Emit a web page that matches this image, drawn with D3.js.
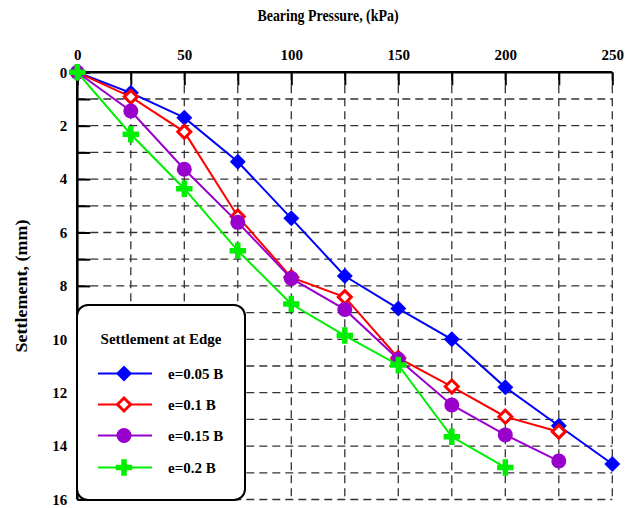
<!DOCTYPE html>
<html><head><meta charset="utf-8">
<script src="https://cdn.jsdelivr.net/npm/d3@7"></script>
<style>body{margin:0;background:#fff;}svg{display:block;font-family:"Liberation Serif","Times New Roman",serif;font-weight:bold;}</style>
</head><body>
<script>
const pressure = [0,25,50,75,100,125,150,175,200,225,250];
const s005 = [0,0.77,1.7,3.35,5.47,7.63,8.85,10.0,11.8,13.24,14.67];
const s010 = [0,0.92,2.23,5.4,7.68,8.42,10.7,11.77,12.9,13.46];
const s015 = [0,1.45,3.63,5.62,7.72,8.88,10.75,12.46,13.58,14.56];
const s020 = [0,2.32,4.36,6.68,8.68,9.86,10.96,13.65,14.8];
const seriesNames = ["e=0.05 B","e=0.1 B","e=0.15 B","e=0.2 B"];
const seriesColors = ["#0000ff","#ff0000","#9900cc","#00ee00"];
const seriesMarkers = ["diamond","hollowDiamond","circle","plus"];
const xTicks = [0,25,50,75,100,125,150,175,200,225,250];
const xLabels = [0,50,100,150,200,250];
const yTicks = d3.range(0,17,1);
const yLabels = [0,2,4,6,8,10,12,14,16];

const W=637,H=508;
const svg=d3.select("body").append("svg").attr("width",W).attr("height",H);
const x=d3.scaleLinear().domain([0,250]).range([77.3,612.3]);
const y=d3.scaleLinear().domain([0,16]).range([72.3,499.5]);

// grid
const grid=svg.append("g").attr("stroke","#333").attr("stroke-width",1.3).attr("stroke-dasharray","8,5");
grid.selectAll(".gx").data(xTicks.filter(d=>d>0)).join("line")
  .attr("x1",d=>x(d)).attr("x2",d=>x(d)).attr("y1",y(0)).attr("y2",y(16));
grid.selectAll(".gy").data(yTicks.filter(d=>d>0)).join("line")
  .attr("y1",d=>y(d)).attr("y2",d=>y(d)).attr("x1",x(0)).attr("x2",x(250));

// axes
const xAxis=d3.axisTop(x).tickValues(xTicks).tickSizeInner(-13).tickSizeOuter(0).tickPadding(12)
  .tickFormat(d=>xLabels.includes(d)?d:"");
const gx=svg.append("g").attr("transform",`translate(0,${y(0)})`).call(xAxis);
const yAxis=d3.axisLeft(y).tickValues(yTicks).tickSizeInner(-13).tickSizeOuter(0).tickPadding(10)
  .tickFormat(d=>yLabels.includes(d)?d:"");
const gy=svg.append("g").attr("transform",`translate(${x(0)},0)`).call(yAxis);
[gx,gy].forEach(g=>{
  g.select(".domain").attr("stroke","#000").attr("stroke-width",2.6);
  g.selectAll(".tick line").attr("stroke","#000").attr("stroke-width",2);
  g.selectAll(".tick text").attr("fill","#000").style("font-size","15px").style("font-family","Liberation Serif").style("font-weight","bold");
});
gy.select(".domain").attr("d",`M0,${y(0)-1.3}V${y(16)}`);
gx.select(".domain").attr("d",`M${x(0)},0H${x(250)}`);

// titles
svg.append("text").attr("x",328).attr("y",21).attr("text-anchor","middle").style("font-size","16.5px")
  .attr("textLength",141).attr("lengthAdjust","spacingAndGlyphs").text("Bearing Pressure, (kPa)");
svg.append("text").attr("transform","translate(27,286) rotate(-90)").attr("text-anchor","middle").style("font-size","16.5px")
  .attr("textLength",133).attr("lengthAdjust","spacingAndGlyphs").text("Settlement, (mm)");

// markers
function drawMarker(g,type,color){
  if(type==="diamond"){
    g.append("path").attr("d","M0,-8L8,0L0,8L-8,0Z").attr("fill",color);
  } else if(type==="hollowDiamond"){
    g.append("path").attr("d","M0,-6.5L6.5,0L0,6.5L-6.5,0Z").attr("fill","#fff").attr("stroke",color).attr("stroke-width",3);
  } else if(type==="circle"){
    g.append("circle").attr("r",7.5).attr("fill",color);
  } else {
    g.append("path").attr("d",d3.symbol(d3.symbolCross,150)()).attr("fill",color);
  }
}

const allSeries=[s005,s010,s015,s020];
const line=d3.line().x(d=>x(d[0])).y(d=>y(d[1]));
allSeries.forEach((vals,i)=>{
  const pts=vals.map((v,j)=>[pressure[j],v]);
  const g=svg.append("g");
  g.append("path").attr("d",line(pts)).attr("fill","none").attr("stroke",seriesColors[i]).attr("stroke-width",2);
  pts.forEach(p=>{
    const m=g.append("g").attr("transform",`translate(${x(p[0])},${y(p[1])})`);
    drawMarker(m,seriesMarkers[i],seriesColors[i]);
  });
});

// legend
const lg=svg.append("g");
lg.append("rect").attr("x",77).attr("y",305).attr("width",168).attr("height",195).attr("rx",11).attr("ry",11)
  .attr("fill","#fff").attr("stroke","#000").attr("stroke-width",2);
lg.append("text").attr("x",161).attr("y",344).attr("text-anchor","middle").style("font-size","15px").text("Settlement at Edge");
const rowY=[373.5,404.5,435.5,467.5];
seriesNames.forEach((n,i)=>{
  lg.append("line").attr("x1",98).attr("x2",152).attr("y1",rowY[i]).attr("y2",rowY[i]).attr("stroke",seriesColors[i]).attr("stroke-width",2);
  const m=lg.append("g").attr("transform",`translate(124,${rowY[i]})`);
  drawMarker(m,seriesMarkers[i],seriesColors[i]);
  lg.append("text").attr("x",168).attr("y",rowY[i]+5).style("font-size","15px").text(n);
});
</script>
</body></html>
